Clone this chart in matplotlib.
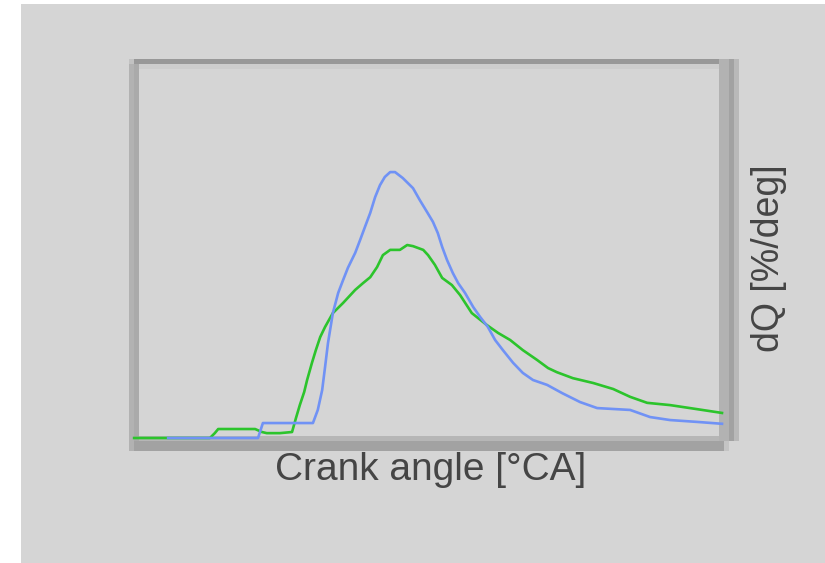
import numpy as np
import matplotlib.pyplot as plt
from matplotlib.patches import Rectangle

# crank angle [deg CA] and heat release rate dQ [%/deg]
blue_ca = [-24.0, -5.5, -4.5, 1.1, 5.8, 6.8, 7.7, 8.3, 8.9, 9.9, 11.0, 12.0, 13.0,
           14.5, 15.5, 16.5, 17.6, 18.6, 19.6, 20.6, 21.7, 22.7, 24.3, 26.4, 27.8,
           29.3, 30.5, 31.5, 32.4, 33.4, 34.6, 35.7, 37.1, 38.8, 40.2, 41.8, 43.3,
           44.9, 47.0, 49.0, 51.1, 54.0, 57.1, 60.8, 64.3, 71.1, 75.2, 79.3, 84.9, 90.0]
blue_dq = [0.0, 0.0, 0.40, 0.40, 0.40, 0.75, 1.28, 1.90, 2.54, 3.34, 3.88, 4.22, 4.55,
           4.95, 5.29, 5.64, 6.02, 6.44, 6.76, 6.98, 7.11, 7.11, 6.95, 6.68, 6.36,
           6.04, 5.78, 5.48, 5.11, 4.76, 4.41, 4.14, 3.88, 3.50, 3.24, 2.97, 2.62,
           2.35, 2.01, 1.74, 1.55, 1.42, 1.20, 0.96, 0.80, 0.75, 0.56, 0.48, 0.43, 0.38]

green_ca = [-31.0, -15.4, -14.4, -13.7, -10.2, -6.1, -4.7, -3.7, -1.0, 1.5, 2.3, 3.1,
            4.0, 4.6, 5.6, 6.4, 7.3, 8.3, 9.9, 12.0, 14.5, 16.1, 17.6, 19.0, 20.2,
            21.7, 23.7, 25.2, 26.4, 28.5, 29.5, 30.9, 32.4, 34.4, 36.1, 38.5, 41.6,
            43.9, 46.4, 49.0, 51.9, 54.2, 56.0, 59.3, 63.5, 67.6, 71.1, 74.6, 79.3,
            83.4, 90.0]
green_dq = [0.0, 0.0, 0.13, 0.24, 0.24, 0.24, 0.16, 0.13, 0.13, 0.16, 0.53, 0.88,
            1.23, 1.55, 2.01, 2.35, 2.70, 2.97, 3.34, 3.61, 3.96, 4.14, 4.30, 4.57, 4.89,
            5.03, 5.03, 5.16, 5.13, 5.03, 4.89, 4.63, 4.28, 4.09, 3.82, 3.34, 3.02,
            2.81, 2.62, 2.35, 2.09, 1.87, 1.76, 1.60, 1.47, 1.31, 1.10, 0.94, 0.88,
            0.80, 0.67]

W, H = 825, 563
fig = plt.figure(figsize=(W / 100, H / 100), dpi=100, facecolor='white')


def px_rect(x0, y0, x1, y1, color):
    # rectangle given in pixel coords (origin top-left), drawn under the axes
    r = Rectangle((x0 / W, 1 - y1 / H), (x1 - x0) / W, (y1 - y0) / H,
                  transform=fig.transFigure, facecolor=color, edgecolor='none',
                  zorder=-5)
    fig.add_artist(r)


# panel background and the shaded 3d-ish frame
px_rect(21, 4, 825, 563, '#d5d5d5')
px_rect(129, 59, 134, 64, '#c2c2c2')
px_rect(134, 59, 724, 64, '#989898')
px_rect(139, 64, 719, 69, '#cdcdcd')
px_rect(129, 64, 134, 451, '#b2b2b2')
px_rect(134, 64, 139, 441, '#aaaaaa')
px_rect(139, 436, 719, 441, '#b6b6b6')
px_rect(134, 441, 724, 451, '#a2a2a2')
px_rect(724, 441, 729, 451, '#c4c4c4')
px_rect(719, 59, 729, 441, '#b2b2b2')
px_rect(729, 59, 734, 441, '#a2a2a2')
px_rect(734, 59, 739, 441, '#b9b9b9')

ax = fig.add_axes([139 / W, 1 - 438 / H, (722 - 139) / W, (438 - 64) / H])
ax.patch.set_visible(False)
for s in ax.spines.values():
    s.set_visible(False)
ax.set_xticks([])
ax.set_yticks([])

ax.plot(green_ca, green_dq, color='#2cc42c', lw=1.9, clip_on=False)
ax.plot(blue_ca, blue_dq, color='#7092f5', lw=1.9, clip_on=False)
ax.set_xlim(-30, 90)
ax.set_ylim(0, 10)

ax.set_xlabel('Crank angle [°CA]', family='Liberation Sans', fontsize=28,
              color='#454545', labelpad=10)
ax.yaxis.set_label_position('right')
ax.set_ylabel('dQ [%/deg]', family='Liberation Sans', fontsize=27,
              color='#454545', labelpad=20)
ax.yaxis.set_label_coords(1.0 + 29 / 583, 0.48)

plt.savefig('out.png', dpi=100, facecolor=fig.get_facecolor())
